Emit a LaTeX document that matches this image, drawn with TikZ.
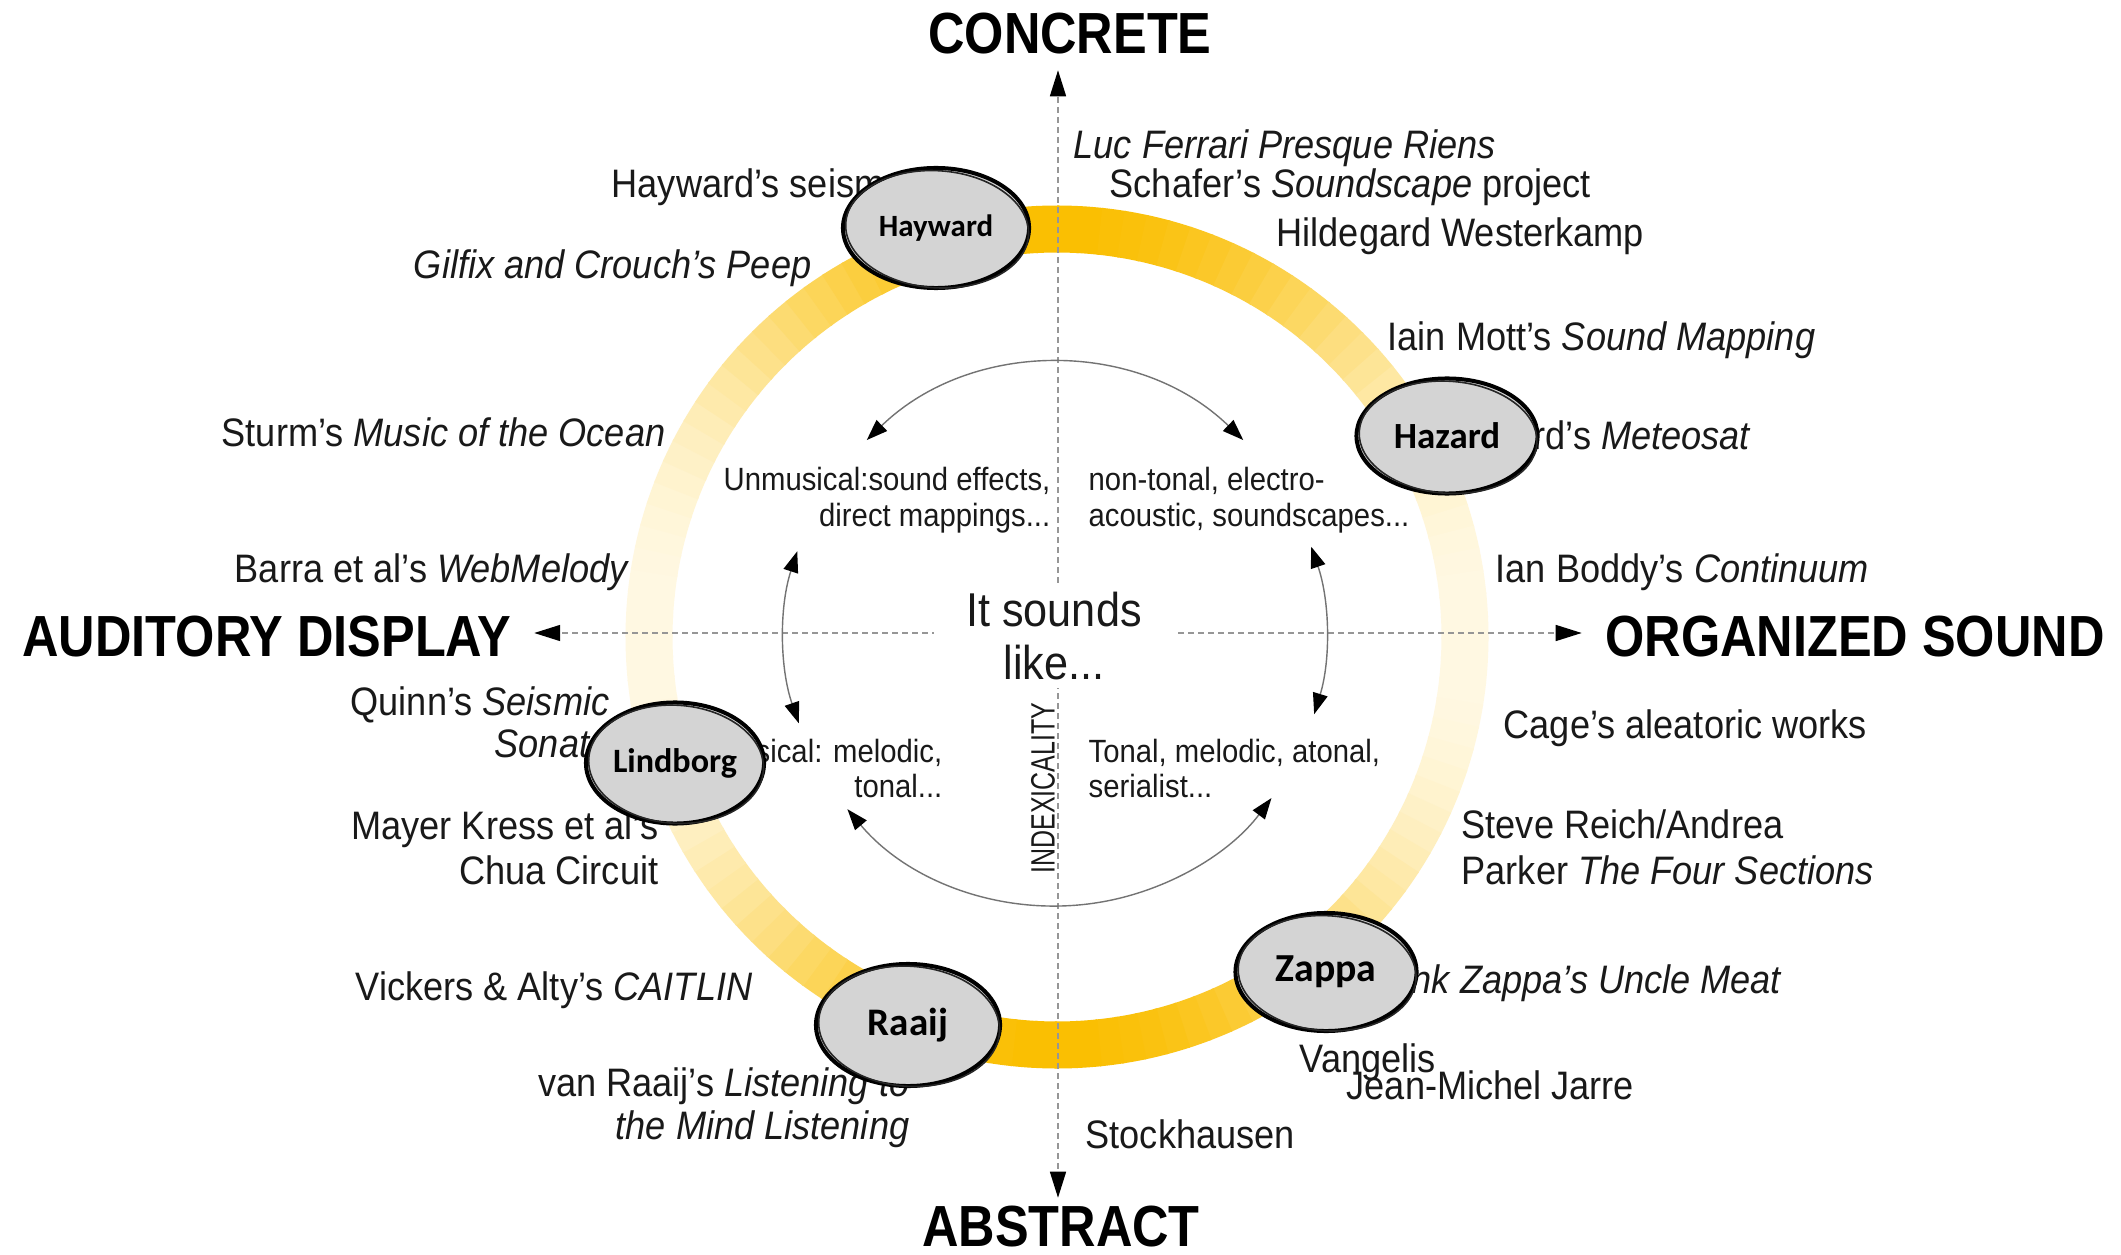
\documentclass[tikz,border=0pt]{standalone}
\usepackage{fontspec}
\usetikzlibrary{shapes.geometric,arrows.meta}
\newfontfamily\lblfont{Liberation Sans}[FakeStretch=0.91]
\newfontfamily\headfont{Liberation Sans}[FakeStretch=0.87]
\newfontfamily\idxfont{Liberation Sans}[FakeStretch=0.74]
\newfontfamily\blobfont{Carlito}

\definecolor{ringdark}{RGB}{250,190,0}
\definecolor{ringpale}{RGB}{255,248,226}
\definecolor{blobgrey}{RGB}{212,212,212}
\definecolor{axisgrey}{RGB}{150,150,150}
\definecolor{arcgrey}{RGB}{115,115,115}
\definecolor{ink}{RGB}{25,25,25}

\begin{document}
\begin{tikzpicture}[x=0.01cm, y=-0.01cm,
  lbl/.style={font=\lblfont\fontsize{11.3}{13}\selectfont, inner sep=0, text=ink},
  inr/.style={font=\lblfont\fontsize{9.15}{10}\selectfont, inner sep=0, text=ink},
  head/.style={font=\headfont\bfseries\fontsize{16.5}{18}\selectfont, inner sep=0, text=black},
  hubstyle/.style={font=\lblfont\fontsize{13.5}{15.1}\selectfont, align=center, fill=white,
    inner xsep=0.32cm, inner ysep=0.08cm, text=ink},
  blob/.style={ellipse, draw=black, line width=0.04cm, fill=blobgrey, inner sep=0,
    text=black},
  sketchline/.style={draw=black!85, line width=0.016cm},
  axis/.style={draw=axisgrey, line width=0.015cm, dash pattern=on 0.06cm off 0.04cm,
    -{Triangle[length=0.26cm,width=0.16cm,color=black]}},
  cyclearc/.style={draw=arcgrey, line width=0.014cm,
    {Triangle[length=0.21cm,width=0.15cm,color=black]}-{Triangle[length=0.21cm,width=0.15cm,color=black]}}
]
\fill[white] (0,0) rectangle (2121,1255);
\useasboundingbox (0,0) rectangle (2121,1255);

% yellow ring, strongest at top and bottom
\coordinate (R) at (1057,637);
\foreach \a in {0,3,...,357}{
  \pgfmathtruncatemacro\t{100*abs(sin(\a+1.5))^2.5}
  \draw[line width=0.47cm, draw=ringdark!\t!ringpale]
    ([shift={(\a:408)}]R) arc[start angle=\a, end angle=\a+3.3, radius=408];
}

% axis labels
\node[head] (concrete) at (1070,34) {CONCRETE};
\node[head] (abstract) at (1061,1227) {ABSTRACT};
\node[head] (auditory) at (267,637) {AUDITORY DISPLAY};
\node[head] (organized) at (1855,637) {ORGANIZED SOUND};

% dashed axes
\coordinate (O) at (1058,633);
\draw[axis, shorten >=0.15cm] (O) -- (O |- concrete.south);
\draw[axis, shorten >=0.08cm] (O) -- (O |- abstract.north);
\draw[axis, shorten >=0.22cm] (O) -- (O -| auditory.east);
\draw[axis, shorten >=0.23cm] (O) -- (O -| organized.west);

% inner cycle of arrows
\coordinate (C) at (1055,635);
\draw[cyclearc] ([shift={(-46:271)}]C) arc[start angle=-46, end angle=-134, radius=271];
\draw[cyclearc] ([shift={(-162:271)}]C) arc[start angle=-162, end angle=-199, radius=271];
\draw[cyclearc] ([shift={(17:271)}]C) arc[start angle=17, end angle=-19, radius=271];
\draw[cyclearc] ([shift={(-220:271)}]C) arc[start angle=-220, end angle=-323, radius=271];

% centre
\node[hubstyle] (hub) at (1054,636) {It sounds\\like...};
\node[rotate=90, font=\idxfont\fontsize{9.6}{10}\selectfont, inner sep=0, text=ink] (idx) at (1043,788) {INDEXICALITY};

% quadrant descriptions
\node[inr, anchor=base east] (unmusA) at (1051,491) {Unmusical:sound effects,};
\node[inr, anchor=base east] (unmusB) at (1051,526) {direct mappings...};
\node[inr, anchor=base west] (nontA) at (1088,491) {non-tonal, electro-};
\node[inr, anchor=base west] (nontB) at (1088,526) {acoustic, soundscapes...};
\node[inr, anchor=base east] (musA) at (943,762) {Musical: melodic,};
\node[inr, anchor=base east] (musB) at (943,797) {tonal...};
\node[inr, anchor=base west] (tonA) at (1088,762) {Tonal, melodic, atonal,};
\node[inr, anchor=base west] (tonB) at (1088,797) {serialist...};

% works, right half
\node[lbl, anchor=base west] (luc) at (1073,159) {\textit{Luc Ferrari Presque Riens}};
\node[lbl, anchor=base west] (schafer) at (1109,198) {Schafer’s \textit{Soundscape} project};
\node[lbl, anchor=base west] (hilde) at (1276,247) {Hildegard Westerkamp};
\node[lbl, anchor=base west] (mott) at (1387,351) {Iain Mott’s \textit{Sound Mapping}};
\node[lbl, anchor=base east] (meteo) at (1752,450) {Hazard’s \textit{Meteosat}};
\node[lbl, anchor=base west] (boddy) at (1495,582) {Ian Boddy’s \textit{Continuum}};
\node[lbl, anchor=base west] (cage) at (1503,738) {Cage’s aleatoric works};
\node[lbl, anchor=base west] (reichA) at (1461,838) {Steve Reich/Andrea};
\node[lbl, anchor=base west] (reichB) at (1461,884) {Parker \textit{The Four Sections}};
\node[lbl, anchor=base east] (uncle) at (1783,993) {\textit{Frank Zappa’s Uncle Meat}};
\node[lbl, anchor=base west] (vangelis) at (1299,1072) {Vangelis};
\node[lbl, anchor=base west] (jarre) at (1346,1099) {Jean-Michel Jarre};
\node[lbl, anchor=base west] (stock) at (1085,1148) {Stockhausen};

% works, left half
\node[lbl, anchor=base west] (seism) at (611,198) {Hayward’s seism};
\node[lbl, anchor=base east] (peep) at (812,279) {\textit{Gilfix and Crouch’s Peep}};
\node[lbl, anchor=base east] (sturm) at (666,447) {Sturm’s \textit{Music of the Ocean}};
\node[lbl, anchor=base east] (barra) at (630,582) {Barra et al’s \textit{WebMelody}};
\node[lbl, anchor=base east] (quinnA) at (610,715) {Quinn’s \textit{Seismic}};
\node[lbl, anchor=base east] (quinnB) at (610,757) {\textit{Sonata}};
\node[lbl, anchor=base east] (mayerA) at (659,839) {Mayer Kress et al’s};
\node[lbl, anchor=base east] (mayerB) at (659,884) {Chua Circuit};
\node[lbl, anchor=base east] (caitlin) at (753,1000) {Vickers \& Alty’s \textit{CAITLIN}};
\node[lbl, anchor=base east] (raaijA) at (910,1096) {van Raaij’s \textit{Listening to}};
\node[lbl, anchor=base east] (raaijB) at (910,1139) {\textit{the Mind Listening}};

% author ellipses on the ring
\node[blob, minimum width=1.86cm, minimum height=1.2cm,
  font=\blobfont\bfseries\fontsize{8.8}{10}\selectfont] (hayward) at (936,228) {Hayward};
\node[blob, minimum width=1.81cm, minimum height=1.15cm,
  font=\blobfont\bfseries\fontsize{10.5}{12}\selectfont] (hazard) at (1447,436) {Hazard};
\node[blob, minimum width=1.78cm, minimum height=1.21cm,
  font=\blobfont\bfseries\fontsize{9.7}{11}\selectfont] (lindborg) at (675,763) {Lindborg};
\node[blob, minimum width=1.81cm, minimum height=1.18cm,
  font=\blobfont\bfseries\fontsize{11.3}{13}\selectfont] (zappa) at (1326,972) {Zappa};
\node[blob, minimum width=1.84cm, minimum height=1.22cm,
  font=\blobfont\bfseries\fontsize{11.1}{13}\selectfont] (raaij) at (908,1025) {Raaij};

% second pencil stroke round each ellipse
\foreach \n/\rx/\ry in {hayward/0.915/0.585, hazard/0.89/0.56, lindborg/0.875/0.59,
                        zappa/0.89/0.575, raaij/0.905/0.6}{
  \draw[sketchline, rotate around={-4:(\n.center)}]
    ([xshift=0.012cm,yshift=-0.012cm]\n.center) ellipse[x radius=\rx cm, y radius=\ry cm];
}
\end{tikzpicture}
\end{document}
